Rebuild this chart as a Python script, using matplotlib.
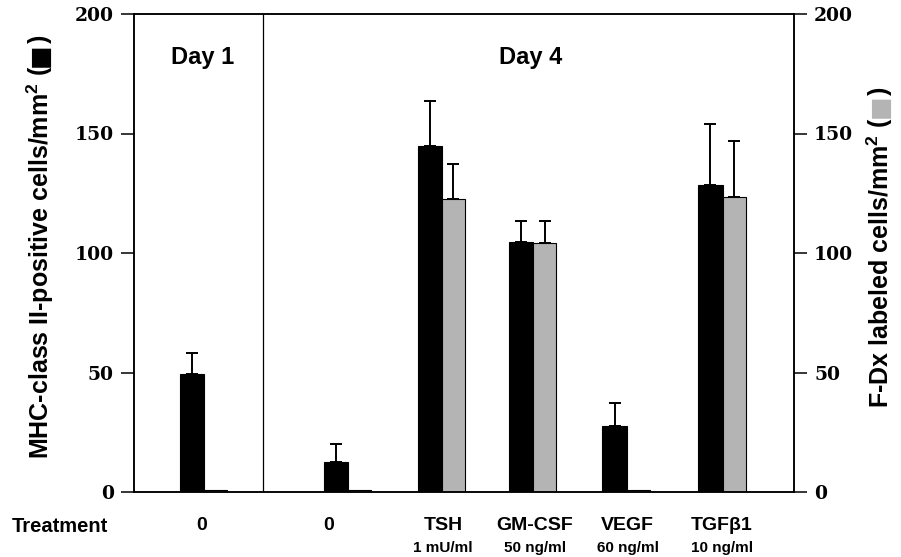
import matplotlib
matplotlib.use("Agg")
import matplotlib.pyplot as plt

plt.rcParams["mathtext.fontset"] = "custom"
plt.rcParams["mathtext.rm"] = "Liberation Sans:bold"
plt.rcParams["mathtext.it"] = "Liberation Sans:bold"
plt.rcParams["mathtext.bf"] = "Liberation Sans:bold"

# data
treatments = ["0", "0", "TSH", "GM-CSF", "VEGF", "TGFβ1"]
doses = ["", "", "1 mU/ml", "50 ng/ml", "60 ng/ml", "10 ng/ml"]
mhc_mean = [49.4, 12.4, 144.9, 104.5, 27.7, 128.5]
mhc_err = [8.7, 7.6, 18.6, 8.9, 9.7, 25.3]
fdx_mean = [0.8, 0.8, 122.6, 104.2, 0.8, 123.3]
fdx_err = [0, 0, 14.8, 9.2, 0, 23.7]

# layout (x in units of ~94 px)
bar_left = [0.49, 2.02, 3.02, 3.99, 4.99, 6.01]
label_x = [0.72, 2.07, 3.29, 4.27, 5.26, 6.26]
w_black = 0.26
w_grey = 0.245
divider = 1.37
xmax = 7.03

sans = "Liberation Sans"
serif = "DejaVu Serif"

fig = plt.figure(figsize=(9.01, 5.57), dpi=100)
ax = fig.add_axes([134 / 901, 1 - 492 / 557, 660 / 901, 478 / 557])
ax.set_xlim(0, xmax)
ax.set_ylim(0, 200)

xb = [l + w_black / 2 for l in bar_left]
xg = [l + w_black + w_grey / 2 for l in bar_left]
ax.bar(xb, mhc_mean, width=w_black, color="black", edgecolor="black", linewidth=0.8, zorder=2)
ax.bar(xg, fdx_mean, width=w_grey, color="#b4b4b4", edgecolor="black", linewidth=0.8, zorder=2)

for x, m, e in zip(xb, mhc_mean, mhc_err):
    ax.errorbar(x, m, yerr=[[0], [e]], fmt="none", ecolor="black", elinewidth=1.4,
                capsize=4.5, capthick=1.4, zorder=1)
for x, m, e in zip(xg, fdx_mean, fdx_err):
    if e > 0:
        ax.errorbar(x, m, yerr=[[0], [e]], fmt="none", ecolor="black", elinewidth=1.4,
                    capsize=4.5, capthick=1.4, zorder=1)

ax.axvline(divider, color="black", linewidth=0.9)

for s in ax.spines.values():
    s.set_linewidth(1.1)
ax.set_xticks([])
ax.set_yticks([0, 50, 100, 150, 200])
ax.tick_params(axis="y", direction="out", length=9.5, width=1.1, pad=5)
for t in ax.get_yticklabels():
    t.set_fontfamily(serif)
    t.set_fontweight("bold")
    t.set_fontsize(13.5)

ax2 = ax.twinx()
ax2.set_ylim(0, 200)
ax2.set_yticks([0, 50, 100, 150, 200])
ax2.tick_params(axis="y", direction="out", length=9.5, width=1.1, pad=5)
for s in ax2.spines.values():
    s.set_linewidth(1.1)
for t in ax2.get_yticklabels():
    t.set_fontfamily(serif)
    t.set_fontweight("bold")
    t.set_fontsize(13.5)

ax.text(0.73, 182, "Day 1", ha="center", va="center", fontsize=17, fontweight="bold", family=sans)
ax.text(4.22, 182, "Day 4", ha="center", va="center", fontsize=17, fontweight="bold", family=sans)

# treatment labels below the axis
fig.text(12 / 901, 1 - 526 / 557, "Treatment", ha="left", va="center", fontsize=14.5,
         fontweight="bold", family=sans)
for x, t, d in zip(label_x, treatments, doses):
    xf = ax.transData.transform((x, 0))[0] / fig.bbox.width
    fig.text(xf, 1 - 526 / 557, t, ha="center", va="center", fontsize=14,
             fontweight="bold", family=sans)
    if d:
        fig.text(xf, 1 - 548 / 557, d, ha="center", va="center", fontsize=11,
                 fontweight="bold", family=sans)


def vertical_label(x_px, y_center_px, pieces):
    # stack rotated text pieces bottom to top, centred on y_center_px
    renderer = fig.canvas.get_renderer()
    texts = []
    for s, c, fam in pieces:
        t = fig.text(0, 0, s, rotation=90, ha="center", va="bottom", fontsize=18,
                     fontweight="bold", color=c, family=fam)
        texts.append(t)
    heights = [t.get_window_extent(renderer).height for t in texts]
    total = sum(heights)
    y = (557 - y_center_px) - total / 2
    for t, h in zip(texts, heights):
        t.set_position((x_px / 901, y / 557))
        y += h


vertical_label(40, 247, [("MHC-class II-positive cells/mm$^2$", "black", sans),
                         (" (", "black", sans), ("■", "black", "DejaVu Sans"),
                         (")", "black", sans)])
vertical_label(880, 247, [("F-Dx labeled cells/mm$^2$", "black", sans),
                          (" (", "black", sans), ("■", "#b4b4b4", "DejaVu Sans"),
                          (")", "black", sans)])

fig.savefig("out.png", dpi=100)
